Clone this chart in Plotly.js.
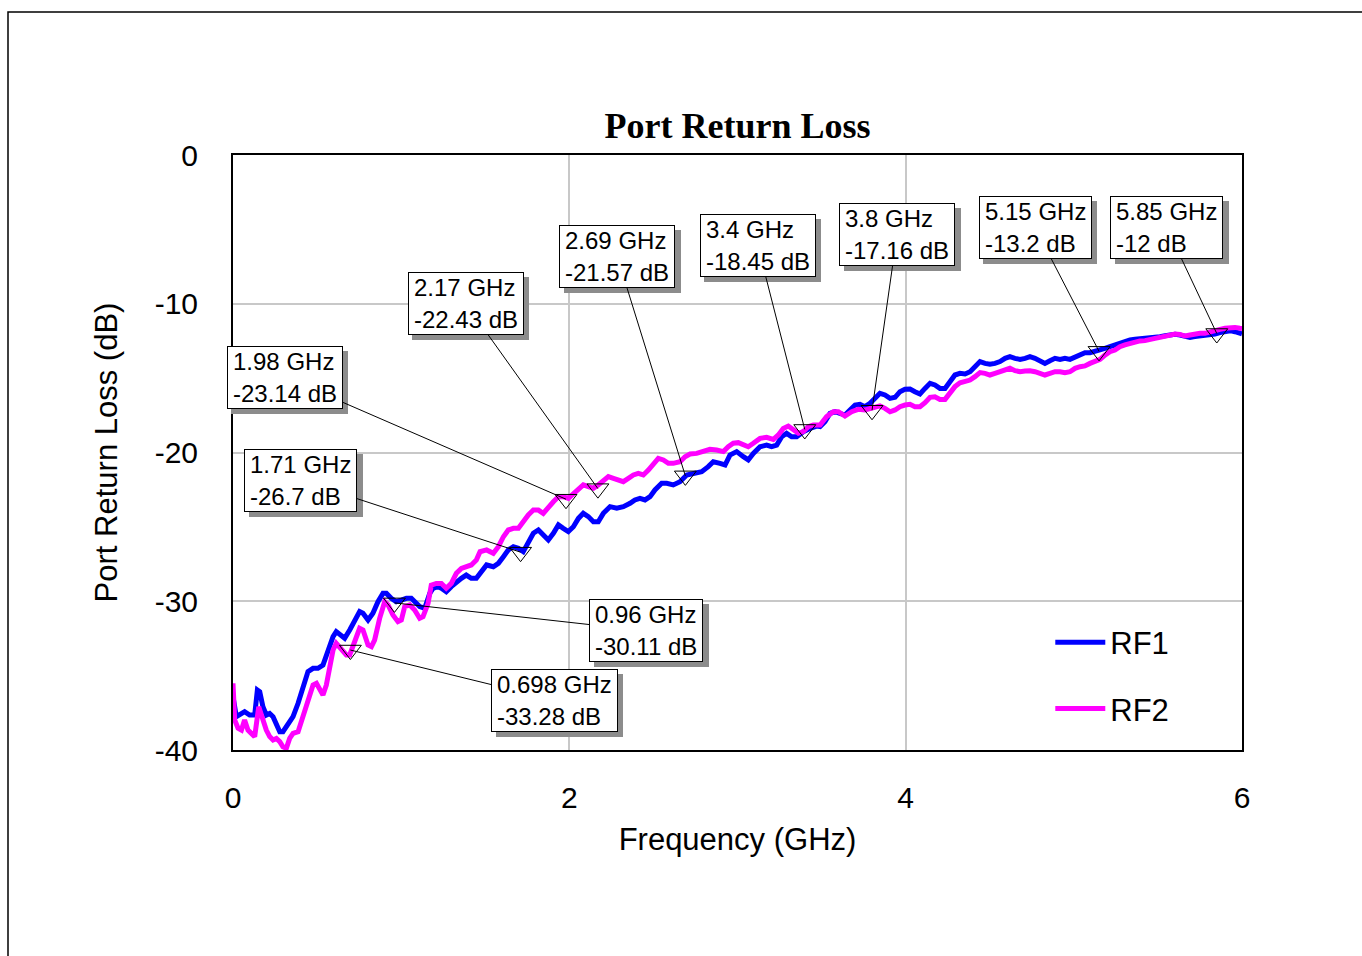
<!DOCTYPE html>
<html>
<head>
<meta charset="utf-8">
<script src="https://cdn.plot.ly/plotly-3.0.1.min.js"></script>
<style>html,body{margin:0;padding:0;background:#fff;}#chart{width:1362px;height:956px;}</style>
</head>
<body>
<div id="chart"></div>
<script>
// ---- data (GHz, dB) ----
const rf1Freq = [0,0.02,0.069,0.099,0.129,0.145,0.159,0.178,0.198,0.218,0.238,0.258,0.278,0.297,0.317,0.357,0.387,0.416,0.446,0.476,0.505,0.535,0.565,0.595,0.614,0.644,0.664,0.694,0.723,0.753,0.773,0.803,0.832,0.862,0.892,0.912,0.941,0.971,1.001,1.031,1.060,1.080,1.110,1.140,1.170,1.189,1.219,1.239,1.268,1.298,1.328,1.358,1.387,1.417,1.447,1.477,1.508,1.548,1.578,1.608,1.637,1.667,1.697,1.726,1.756,1.786,1.816,1.845,1.875,1.905,1.935,1.964,1.994,2.024,2.054,2.083,2.113,2.143,2.172,2.202,2.242,2.282,2.321,2.361,2.390,2.420,2.450,2.480,2.509,2.549,2.579,2.618,2.658,2.698,2.747,2.787,2.826,2.856,2.896,2.926,2.955,2.995,3.035,3.064,3.094,3.134,3.173,3.203,3.233,3.263,3.292,3.322,3.352,3.391,3.431,3.471,3.491,3.520,3.550,3.580,3.609,3.639,3.669,3.699,3.728,3.758,3.788,3.818,3.847,3.877,3.907,3.937,3.966,3.996,4.026,4.055,4.085,4.115,4.145,4.174,4.204,4.234,4.264,4.293,4.323,4.353,4.383,4.412,4.442,4.472,4.501,4.531,4.561,4.591,4.620,4.650,4.680,4.710,4.739,4.769,4.799,4.828,4.858,4.888,4.918,4.947,4.977,5.007,5.037,5.066,5.096,5.126,5.156,5.185,5.215,5.245,5.274,5.304,5.334,5.364,5.393,5.423,5.453,5.483,5.512,5.542,5.572,5.602,5.631,5.661,5.691,5.720,5.750,5.780,5.810,5.839,5.869,5.899,5.929,5.958,5.988,6.0];
const rf1Loss = [-36.42,-37.76,-37.42,-37.65,-37.65,-35.97,-36.08,-37.09,-37.65,-37.54,-37.76,-38.21,-38.77,-38.77,-38.43,-37.76,-36.86,-35.74,-34.73,-34.51,-34.51,-34.29,-33.28,-32.38,-32.04,-32.27,-32.49,-31.93,-31.26,-30.70,-30.81,-31.26,-30.81,-30.03,-29.47,-29.47,-29.80,-30.03,-29.92,-29.80,-29.80,-30.03,-30.36,-30.47,-29.47,-29.13,-29.02,-29.13,-29.36,-29.02,-28.68,-28.46,-28.24,-28.46,-28.46,-28.00,-27.56,-27.68,-27.45,-27.00,-26.55,-26.33,-26.44,-26.67,-25.99,-25.43,-25.21,-25.55,-25.88,-25.43,-24.87,-25.10,-25.32,-24.99,-24.43,-24.09,-24.31,-24.65,-24.65,-24.09,-23.64,-23.75,-23.64,-23.42,-23.19,-23.08,-23.19,-22.97,-22.52,-22.07,-22.07,-22.18,-21.96,-21.51,-21.40,-21.29,-20.95,-20.62,-20.73,-20.84,-20.17,-19.94,-20.28,-20.50,-20.06,-19.61,-19.50,-19.61,-19.50,-18.94,-18.71,-18.94,-18.94,-18.60,-18.38,-18.22,-18.26,-17.93,-17.37,-17.26,-17.37,-17.48,-17.14,-16.81,-16.76,-16.92,-16.69,-16.36,-16.02,-16.13,-16.36,-16.29,-15.91,-15.75,-15.73,-15.91,-16.07,-15.69,-15.35,-15.46,-15.69,-15.69,-15.24,-14.79,-14.68,-14.72,-14.57,-14.27,-13.89,-14.01,-14.07,-14.01,-13.89,-13.67,-13.56,-13.67,-13.74,-13.67,-13.56,-13.67,-13.83,-14.01,-13.83,-13.67,-13.74,-13.67,-13.74,-13.56,-13.40,-13.29,-13.29,-13.22,-13.15,-13.00,-12.89,-12.77,-12.62,-12.48,-12.44,-12.39,-12.37,-12.33,-12.33,-12.26,-12.21,-12.15,-12.10,-12.06,-12.10,-12.21,-12.26,-12.21,-12.17,-12.17,-12.10,-12.03,-11.94,-11.88,-11.81,-11.88,-11.99,-12.02];

const rf2Freq = [0,0.010,0.030,0.050,0.069,0.089,0.109,0.129,0.153,0.178,0.198,0.218,0.238,0.258,0.278,0.297,0.317,0.337,0.357,0.387,0.416,0.446,0.476,0.496,0.515,0.535,0.555,0.575,0.595,0.614,0.644,0.674,0.694,0.723,0.753,0.773,0.803,0.823,0.842,0.872,0.902,0.922,0.951,0.981,1.001,1.021,1.051,1.080,1.110,1.130,1.160,1.179,1.209,1.239,1.268,1.298,1.328,1.358,1.387,1.417,1.447,1.469,1.508,1.548,1.578,1.608,1.637,1.667,1.697,1.726,1.756,1.786,1.816,1.845,1.875,1.905,1.935,1.964,1.994,2.024,2.054,2.083,2.113,2.143,2.172,2.202,2.232,2.262,2.291,2.321,2.351,2.381,2.410,2.440,2.470,2.500,2.529,2.559,2.589,2.618,2.658,2.688,2.718,2.757,2.797,2.836,2.876,2.916,2.945,2.975,3.005,3.035,3.064,3.094,3.134,3.173,3.213,3.243,3.272,3.302,3.332,3.362,3.391,3.421,3.451,3.491,3.530,3.570,3.600,3.639,3.679,3.718,3.758,3.788,3.818,3.847,3.877,3.907,3.937,3.966,3.996,4.026,4.055,4.085,4.115,4.145,4.174,4.204,4.234,4.264,4.293,4.323,4.353,4.383,4.412,4.442,4.472,4.501,4.531,4.561,4.591,4.620,4.650,4.680,4.710,4.739,4.769,4.799,4.828,4.858,4.888,4.918,4.947,4.977,5.007,5.037,5.066,5.096,5.126,5.156,5.185,5.215,5.245,5.274,5.304,5.334,5.364,5.393,5.423,5.453,5.483,5.512,5.542,5.572,5.602,5.631,5.661,5.691,5.720,5.750,5.780,5.810,5.839,5.869,5.899,5.929,5.958,5.988,6.0];
const rf2Loss = [-35.52,-37.98,-38.54,-38.66,-37.98,-38.66,-38.88,-39.10,-37.09,-37.98,-38.66,-39.10,-39.33,-39.22,-39.44,-39.78,-39.89,-39.22,-38.88,-38.77,-37.76,-36.64,-35.63,-35.52,-35.97,-36.30,-35.63,-34.40,-33.28,-32.83,-33.28,-33.61,-33.61,-32.61,-31.82,-31.93,-32.94,-33.05,-32.61,-31.15,-30.03,-30.25,-30.92,-31.37,-31.26,-30.36,-30.25,-30.59,-31.15,-31.04,-30.14,-28.91,-28.80,-28.80,-29.13,-28.80,-28.12,-27.79,-27.68,-27.56,-27.23,-26.67,-26.55,-26.78,-26.33,-25.66,-25.21,-25.10,-25.10,-24.65,-24.20,-23.87,-23.87,-24.09,-23.64,-23.31,-22.97,-22.97,-23.08,-22.75,-22.41,-22.18,-22.30,-22.41,-22.18,-21.85,-21.62,-21.74,-21.85,-21.96,-21.74,-21.51,-21.40,-21.51,-21.18,-20.73,-20.39,-20.50,-20.73,-20.73,-20.62,-20.28,-20.10,-20.06,-19.94,-19.79,-19.83,-19.94,-19.61,-19.38,-19.34,-19.50,-19.61,-19.38,-19.05,-18.98,-19.12,-18.82,-18.38,-18.22,-18.49,-18.71,-18.60,-18.26,-18.15,-18.15,-17.59,-17.26,-17.26,-17.55,-17.26,-17.10,-17.14,-17.03,-16.92,-16.87,-17.03,-17.26,-17.14,-16.92,-16.81,-16.76,-16.92,-16.92,-16.65,-16.29,-16.25,-16.43,-16.43,-16.02,-15.57,-15.31,-15.24,-15.13,-14.90,-14.63,-14.68,-14.79,-14.68,-14.57,-14.41,-14.34,-14.50,-14.57,-14.52,-14.50,-14.57,-14.68,-14.79,-14.68,-14.57,-14.57,-14.63,-14.57,-14.34,-14.23,-14.18,-14.01,-13.89,-13.74,-13.45,-13.22,-13.11,-12.89,-12.77,-12.66,-12.55,-12.50,-12.48,-12.44,-12.33,-12.26,-12.17,-12.10,-12.03,-12.06,-12.17,-12.10,-12.03,-11.99,-11.99,-11.88,-11.81,-11.72,-11.65,-11.61,-11.59,-11.65,-11.66];

// markers
const markerFreq = [0.698, 0.96, 1.71, 1.98, 2.17, 2.69, 3.4, 3.8, 5.15, 5.85];
const markerLoss = [-33.28, -30.11, -26.7, -23.14, -22.43, -21.57, -18.45, -17.16, -13.2, -12];

// axis ticks
const xTickVals = [0, 2, 4, 6];
const xTickText = ['0', '2', '4', '6'];
const yTickVals = [0, -10, -20, -30, -40];
const yTickText = ['0', '-10', '-20', '-30', '-40'];

// label box offsets (pixels, from marker point to box centre)
const labelAx = [204, 252, -220, -281, -132, -68, -47, 25, -64, -50];
const labelAy = [50, 28, -72, -122, -185, -219, -184, -176, -124, -106];

const FONT = 'Liberation Sans, Arial, sans-serif';
const LABEL_SIZE = 24;

// measure label text widths so the drop shadows match the boxes
const cv = document.createElement('canvas').getContext('2d');
cv.font = LABEL_SIZE + 'px "Liberation Sans", Arial, sans-serif';
function textW(s) { return cv.measureText(s).width; }

const traces = [
  {x: rf1Freq, y: rf1Loss, type: 'scatter', mode: 'lines', name: 'RF1',
   legendgroup: 'a', line: {color: '#0000ff', width: 5}},
  {x: rf2Freq, y: rf2Loss, type: 'scatter', mode: 'lines', name: 'RF2',
   legendgroup: 'b', line: {color: '#ff00ff', width: 5}},
  {x: markerFreq, y: markerLoss, type: 'scatter', mode: 'markers', showlegend: false,
   marker: {symbol: 'triangle-down-open', size: 19, color: '#000', line: {width: 1, color: '#000'}},
   cliponaxis: false}
];

const annotations = [];
markerFreq.forEach((f, i) => {
  const l1 = f + ' GHz', l2 = markerLoss[i] + ' dB';
  const w = Math.ceil(Math.max(textW(l1), textW(l2)));
  annotations.push({
    x: f, y: markerLoss[i], xref: 'x', yref: 'y', text: ' ',
    showarrow: true, arrowcolor: 'rgba(0,0,0,0)', arrowhead: 0, ax: labelAx[i], ay: labelAy[i],
    xshift: 5, yshift: -5, width: w, height: 51,
    font: {family: FONT, size: LABEL_SIZE, color: 'rgba(0,0,0,0)'},
    bgcolor: '#8c8c8c', bordercolor: '#8c8c8c', borderwidth: 1, borderpad: 5
  });
});
markerFreq.forEach((f, i) => {
  const txt = f + ' GHz<br>' + markerLoss[i] + ' dB';
  annotations.push({
    x: f, y: markerLoss[i], xref: 'x', yref: 'y', text: txt, align: 'left',
    showarrow: true, arrowcolor: '#000', arrowhead: 0, arrowwidth: 1, standoff: 0, ax: labelAx[i], ay: labelAy[i],
    font: {family: FONT, size: LABEL_SIZE, color: '#000'},
    bgcolor: '#fff', bordercolor: '#000', borderwidth: 1, borderpad: 5, height: 51
  });
});

const layout = {
  width: 1362, height: 956,
  margin: {l: 233, r: 120, t: 155, b: 206},
  paper_bgcolor: '#fff', plot_bgcolor: '#fff',
  font: {family: FONT, color: '#000'},
  title: {text: 'Port Return Loss', font: {family: 'Liberation Serif, Times New Roman, serif', size: 36, weight: 'bold', color: '#000'},
          x: 0.5, xref: 'paper', xanchor: 'center', y: 1 - 125/956, yref: 'container', yanchor: 'middle'},
  xaxis: {range: [0, 6], tickvals: xTickVals, ticktext: xTickText, showgrid: true, gridcolor: '#c8c8c8', gridwidth: 2,
          zeroline: false, showline: true, mirror: true, linecolor: '#000', linewidth: 2, ticks: '',
          tickfont: {family: FONT, size: 30}, ticklabelstandoff: 20,
          title: {text: 'Frequency (GHz)', font: {family: FONT, size: 31}, standoff: 15}},
  yaxis: {range: [-40, 0], tickvals: yTickVals, ticktext: yTickText, showgrid: true, gridcolor: '#c8c8c8', gridwidth: 2,
          zeroline: false, showline: true, mirror: true, linecolor: '#000', linewidth: 2, ticks: '',
          tickfont: {family: FONT, size: 30}, ticklabelstandoff: 27,
          title: {text: 'Port Return Loss (dB)', font: {family: FONT, size: 31}, standoff: 28}},
  showlegend: true,
  legend: {x: 0.81, y: 0.226, xanchor: 'left', yanchor: 'top', bgcolor: 'rgba(0,0,0,0)', borderwidth: 0,
           font: {family: FONT, size: 31}, traceorder: 'grouped', tracegroupgap: 23, itemwidth: 50},
  annotations: annotations,
  shapes: [
    {type: 'rect', xref: 'paper', yref: 'paper', x0: (8-233)/1009, x1: (1380-233)/1009, y0: (750-980)/595, y1: (750-12)/595,
     line: {color: '#000', width: 1.5}, fillcolor: 'rgba(0,0,0,0)', layer: 'below'}
  ]
};

Plotly.newPlot('chart', traces, layout, {displayModeBar: false, staticPlot: true});
</script>
</body>
</html>
